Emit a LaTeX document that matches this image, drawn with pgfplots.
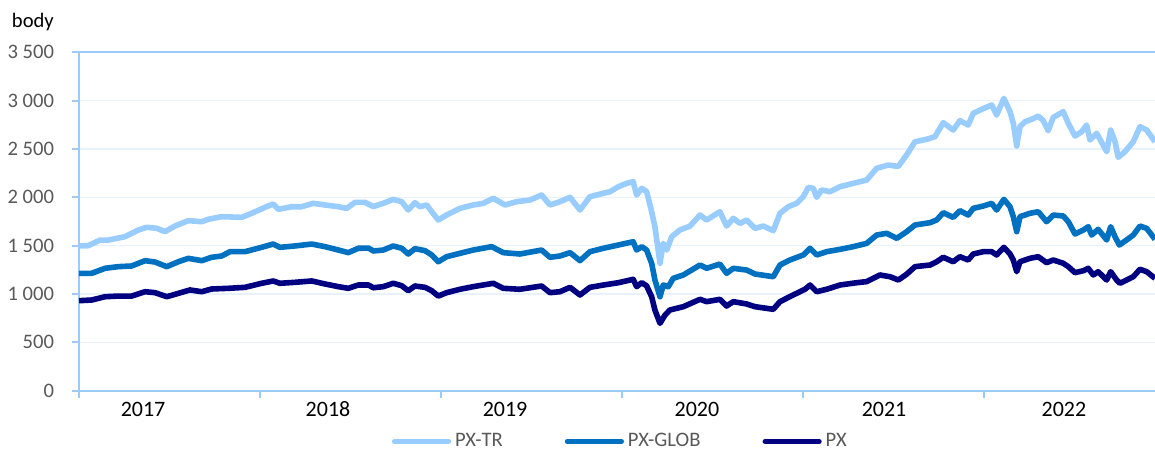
\documentclass[border=0pt]{standalone}
\usepackage{fontspec}
\setmainfont{Carlito}
\usepackage{pgfplots}
\usepackage{pgfplotstable}
\pgfplotsset{compat=1.18}

\definecolor{pxtr}{HTML}{99CCFF}
\definecolor{pxglob}{HTML}{0070C0}
\definecolor{pxnavy}{HTML}{000080}
\definecolor{axblue}{HTML}{9DCBF7}
\definecolor{gridblue}{HTML}{E8F2FC}
\definecolor{lbl}{HTML}{595959}

% time in decimal years, index points
\pgfplotstableread{
t v
2017.000 1497
2017.051 1500
2017.116 1558
2017.162 1558
2017.254 1593
2017.328 1662
2017.374 1690
2017.429 1680
2017.475 1645
2017.530 1703
2017.604 1759
2017.678 1748
2017.714 1773
2017.788 1800
2017.899 1793
2017.954 1835
2018.028 1897
2018.073 1931
2018.101 1876
2018.175 1903
2018.230 1903
2018.294 1938
2018.359 1921
2018.433 1903
2018.479 1886
2018.525 1948
2018.580 1948
2018.626 1905
2018.681 1938
2018.736 1979
2018.783 1955
2018.819 1869
2018.856 1945
2018.884 1903
2018.921 1921
2018.949 1851
2018.985 1766
2019.031 1817
2019.105 1886
2019.178 1921
2019.234 1938
2019.289 1990
2019.354 1921
2019.418 1955
2019.492 1972
2019.556 2024
2019.602 1921
2019.657 1955
2019.713 2000
2019.768 1869
2019.823 2007
2019.897 2042
2019.934 2058
2019.980 2110
2020.026 2145
2020.062 2162
2020.081 2024
2020.109 2093
2020.136 2060
2020.164 1850
2020.182 1696
2020.210 1318
2020.228 1524
2020.247 1455
2020.275 1593
2020.320 1662
2020.376 1703
2020.431 1817
2020.468 1766
2020.541 1851
2020.578 1703
2020.615 1783
2020.652 1731
2020.689 1766
2020.735 1679
2020.781 1703
2020.836 1655
2020.873 1835
2020.919 1903
2020.965 1938
2021.002 2007
2021.029 2103
2021.057 2093
2021.076 2000
2021.103 2076
2021.149 2058
2021.204 2110
2021.278 2145
2021.352 2179
2021.407 2300
2021.471 2334
2021.527 2320
2021.573 2440
2021.619 2575
2021.683 2600
2021.729 2627
2021.775 2772
2021.830 2696
2021.867 2793
2021.913 2748
2021.941 2869
2021.987 2910
2022.043 2955
2022.070 2851
2022.110 3024
2022.144 2886
2022.162 2766
2022.181 2531
2022.199 2731
2022.227 2782
2022.264 2807
2022.300 2841
2022.328 2793
2022.355 2689
2022.383 2827
2022.438 2886
2022.466 2766
2022.503 2634
2022.540 2679
2022.567 2748
2022.586 2593
2022.623 2662
2022.678 2472
2022.700 2696
2022.724 2575
2022.742 2414
2022.779 2472
2022.825 2575
2022.862 2731
2022.899 2696
2022.945 2575
}\pxtrdata

\pgfplotstableread{
t v
2017.000 1214
2017.070 1214
2017.144 1266
2017.217 1283
2017.291 1290
2017.365 1345
2017.420 1331
2017.485 1283
2017.549 1334
2017.604 1369
2017.678 1345
2017.733 1380
2017.788 1393
2017.834 1438
2017.917 1438
2018.009 1483
2018.073 1517
2018.110 1483
2018.193 1497
2018.286 1517
2018.359 1490
2018.433 1455
2018.488 1428
2018.543 1473
2018.600 1475
2018.626 1445
2018.681 1455
2018.736 1497
2018.783 1473
2018.819 1414
2018.856 1469
2018.912 1448
2018.949 1404
2018.985 1334
2019.031 1386
2019.105 1421
2019.178 1455
2019.280 1490
2019.344 1428
2019.436 1414
2019.556 1455
2019.602 1380
2019.657 1393
2019.713 1428
2019.768 1345
2019.823 1438
2019.897 1473
2019.980 1507
2020.062 1541
2020.081 1455
2020.109 1490
2020.136 1455
2020.164 1318
2020.182 1145
2020.210 972
2020.228 1093
2020.256 1076
2020.283 1162
2020.339 1197
2020.431 1300
2020.468 1266
2020.541 1310
2020.578 1214
2020.615 1266
2020.689 1248
2020.735 1207
2020.836 1179
2020.873 1300
2020.928 1352
2021.002 1404
2021.039 1473
2021.076 1404
2021.131 1438
2021.204 1462
2021.278 1490
2021.352 1524
2021.407 1610
2021.462 1628
2021.518 1576
2021.573 1645
2021.619 1714
2021.702 1738
2021.739 1766
2021.775 1841
2021.830 1793
2021.867 1862
2021.913 1817
2021.941 1886
2021.996 1910
2022.043 1938
2022.070 1869
2022.110 1979
2022.144 1903
2022.162 1800
2022.181 1645
2022.199 1800
2022.254 1835
2022.300 1851
2022.346 1748
2022.383 1817
2022.438 1807
2022.466 1748
2022.503 1621
2022.549 1662
2022.576 1696
2022.595 1610
2022.631 1669
2022.678 1559
2022.700 1696
2022.724 1593
2022.748 1507
2022.788 1559
2022.825 1610
2022.862 1703
2022.899 1679
2022.945 1566
}\pxglobdata

\pgfplotstableread{
t v
2017.000 931
2017.070 938
2017.144 972
2017.217 979
2017.291 979
2017.365 1024
2017.420 1014
2017.485 972
2017.549 1007
2017.613 1042
2017.678 1024
2017.733 1052
2017.825 1059
2017.917 1069
2018.009 1111
2018.073 1135
2018.110 1111
2018.193 1121
2018.286 1135
2018.359 1104
2018.433 1076
2018.488 1059
2018.543 1093
2018.600 1093
2018.626 1065
2018.681 1076
2018.736 1111
2018.783 1086
2018.819 1034
2018.856 1083
2018.912 1069
2018.949 1034
2018.985 979
2019.031 1014
2019.105 1049
2019.178 1076
2019.289 1111
2019.344 1059
2019.436 1049
2019.556 1083
2019.602 1014
2019.657 1024
2019.713 1069
2019.768 990
2019.823 1069
2019.897 1093
2019.980 1117
2020.062 1152
2020.081 1076
2020.109 1117
2020.136 1085
2020.164 972
2020.182 835
2020.210 697
2020.238 783
2020.265 835
2020.339 869
2020.431 945
2020.468 921
2020.541 945
2020.578 876
2020.615 921
2020.689 897
2020.735 869
2020.836 842
2020.873 921
2020.946 990
2021.011 1049
2021.039 1093
2021.076 1024
2021.131 1049
2021.204 1093
2021.297 1117
2021.352 1128
2021.425 1197
2021.481 1179
2021.527 1145
2021.573 1205
2021.619 1283
2021.702 1300
2021.739 1334
2021.775 1380
2021.830 1334
2021.867 1386
2021.913 1352
2021.941 1414
2021.996 1438
2022.043 1438
2022.070 1404
2022.110 1483
2022.144 1414
2022.162 1352
2022.181 1231
2022.199 1334
2022.254 1369
2022.300 1386
2022.346 1324
2022.383 1352
2022.438 1318
2022.466 1283
2022.503 1221
2022.549 1241
2022.576 1266
2022.604 1197
2022.631 1231
2022.678 1145
2022.700 1231
2022.733 1145
2022.751 1111
2022.788 1145
2022.825 1179
2022.862 1256
2022.899 1231
2022.945 1162
}\pxdata

\begin{document}
\begin{tikzpicture}
\path[use as bounding box] (-39.5pt,-29.65pt) rectangle (538pt,195.35pt);
\begin{axis}[
  name=ax,
  at={(0,0)}, anchor=south west,
  scale only axis, width=538pt, height=169.2pt,
  xmin=2017, xmax=2022.945, ymin=0, ymax=3500,
  axis x line=box, axis y line=left,
  axis line style={axblue, line width=1pt, -},
  xtick pos=lower,
  tick align=outside, major tick length=3.5pt,
  tick style={axblue, line width=1pt},
  ytick={0,500,...,3500},
  ymajorgrids, major grid style={gridblue, line width=0.7pt},
  xtick={2017,...,2022}, xticklabels={},
  extra x ticks={2017.354,2018.376,2019.354,2020.414,2021.448,2022.442},
  extra x tick labels={2017,2018,2019,2020,2021,2022},
  extra x tick style={major tick length=0pt, grid=none},
  xticklabel style={font=\fontsize{11}{13}\selectfont, text=black, yshift=-2pt},
  yticklabel style={font=\fontsize{10.3}{12}\selectfont, text=lbl, xshift=-5.5pt},
  /pgf/number format/assume math mode=true,
  /pgf/number format/1000 sep={\hspace{0.22em}},
  legend columns=3,
  legend style={at={(0.504,-0.15)}, anchor=center, draw=none, fill=none,
    font=\fontsize{10.3}{12}\selectfont, text=lbl,
    nodes={inner ysep=0.5pt},
    /tikz/every even column/.append style={column sep=29pt}},
  legend image code/.code={\draw[#1, line width=2.6pt, line cap=round] (0pt,0pt) -- (27pt,0pt);},
]
\addplot[pxtr, line width=2.8pt, line join=round] table[x=t, y=v]{\pxtrdata};
\addlegendentry{PX-TR}
\addplot[pxglob, line width=2.8pt, line join=round] table[x=t, y=v]{\pxglobdata};
\addlegendentry{PX-GLOB}
\addplot[pxnavy, line width=2.8pt, line join=round] table[x=t, y=v]{\pxdata};
\addlegendentry{PX}
\end{axis}
\node[anchor=base west, font=\fontsize{10.3}{12}\selectfont, inner sep=0pt] at ([xshift=-33.7pt, yshift=12.6pt]ax.north west) {body};
\end{tikzpicture}
\end{document}
